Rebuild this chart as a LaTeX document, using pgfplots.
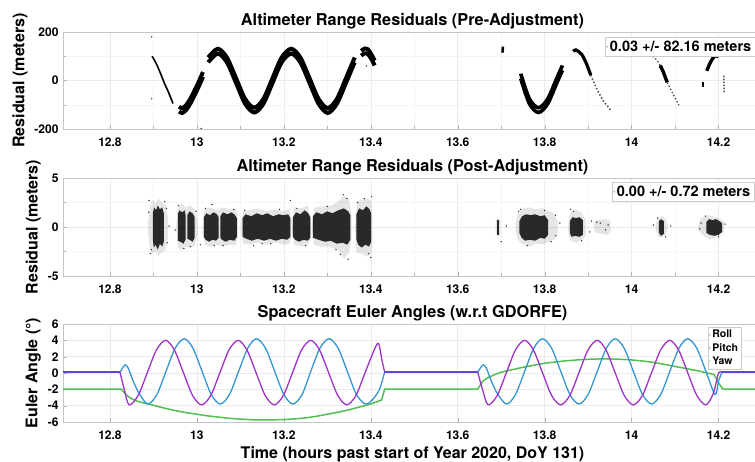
\documentclass[border=0pt]{standalone}
\usepackage{pgfplots}
\pgfplotsset{compat=1.18}
\usepackage{pgfplotstable}
\usepackage{fontspec}
\setmainfont{TeX Gyre Heros}
\definecolor{rollc}{RGB}{50,150,210}
\definecolor{pitchc}{RGB}{160,50,200}
\definecolor{yawc}{RGB}{80,190,80}
\definecolor{flatc}{RGB}{95,70,215}

% ---------- panel 1 data (pre-adjustment residuals, m) ----------
\pgfplotstableread{
x y
12.959 -118
12.966 -124
12.975 -112
12.985 -85
12.995 -50
13.005 -12
13.014 25
}\preA
\pgfplotstableread{
x y
13.026 85
13.048 121
13.069 85
13.090 0
13.111 -86
13.132 -122
13.153 -86
13.174 0
13.195 85
13.217 121
13.238 85
13.259 0
13.280 -86
13.301 -124
13.322 -86
13.343 0
13.363 85
}\preB
\pgfplotstableread{
x y
13.378 112
13.386 122
13.394 118
13.402 96
13.409 72
}\preC
\pgfplotstableread{
x y
13.745 18
13.765 -86
13.786 -122
13.807 -86
13.828 0
13.841 52
}\preD

% ---------- panel 3 data (Euler angles, deg) ----------
\pgfplotstableread{
x y
12.823 0.1
12.833 -2.0
12.844 -3.90
12.865 -2.74
12.886 0.05
12.907 2.84
12.928 4.00
12.948 2.84
12.969 0.05
12.990 -2.74
13.011 -3.90
13.032 -2.74
13.053 0.05
13.074 2.84
13.095 4.00
13.115 2.84
13.136 0.05
13.157 -2.74
13.178 -3.90
13.199 -2.74
13.220 0.05
13.241 2.84
13.262 4.00
13.282 2.84
13.303 0.05
13.324 -2.74
13.345 -3.90
13.366 -2.74
13.387 0.05
13.408 2.84
13.418 3.6
13.426 1.5
13.432 0.1
}\pitchA
\pgfplotstableread{
x y
13.646 0.1
13.657 -2.0
13.670 -3.90
13.691 -2.74
13.712 0.05
13.733 2.84
13.754 4.00
13.774 2.84
13.795 0.05
13.816 -2.74
13.837 -3.90
13.858 -2.74
13.879 0.05
13.900 2.84
13.921 4.00
13.941 2.84
13.962 0.05
13.983 -2.74
14.004 -3.90
14.025 -2.74
14.046 0.05
14.067 2.84
14.088 4.00
14.108 2.84
14.129 0.05
14.150 -2.74
14.171 -3.90
14.188 -2.5
14.200 0.0
14.208 0.1
}\pitchB
\pgfplotstableread{
x y
12.823 0.1
12.829 0.6
12.835 1.0
12.842 0.6
12.852 -0.8
12.866 -2.4
12.887 -3.80
12.908 -2.63
12.929 0.20
12.950 3.03
12.971 4.20
12.991 3.03
13.012 0.20
13.033 -2.63
13.054 -3.80
13.075 -2.63
13.096 0.20
13.117 3.03
13.137 4.20
13.158 3.03
13.179 0.20
13.200 -2.63
13.221 -3.80
13.242 -2.63
13.262 0.20
13.283 3.03
13.304 4.20
13.325 3.03
13.346 0.20
13.367 -2.63
13.388 -3.80
13.405 -3.2
13.420 -2.0
13.432 0.1
}\rollA
\pgfplotstableread{
x y
13.646 0.1
13.652 0.6
13.659 1.0
13.666 0.6
13.676 -0.8
13.690 -2.4
13.712 -3.80
13.733 -2.63
13.754 0.20
13.775 3.03
13.795 4.20
13.816 3.03
13.837 0.20
13.858 -2.63
13.879 -3.80
13.900 -2.63
13.921 0.20
13.942 3.03
13.962 4.20
13.983 3.03
14.004 0.20
14.025 -2.63
14.046 -3.80
14.067 -2.63
14.088 0.20
14.109 3.03
14.129 4.20
14.150 3.03
14.171 0.20
14.192 -2.63
14.200 -1.0
14.208 0.1
}\rollB
\pgfplotstableread{
x y
12.692 -1.97
12.826 -1.97
12.833 -2.4
12.840 -2.8
12.850 -3.15
12.860 -3.4
12.880 -3.7
12.900 -3.95
12.925 -4.3
12.950 -4.6
12.975 -4.85
13.000 -5.05
13.025 -5.25
13.050 -5.4
13.075 -5.55
13.100 -5.65
13.125 -5.72
13.150 -5.75
13.175 -5.74
13.200 -5.7
13.225 -5.62
13.250 -5.5
13.275 -5.3
13.300 -5.05
13.325 -4.8
13.350 -4.5
13.375 -4.15
13.400 -3.8
13.415 -3.5
13.425 -3.3
13.432 -1.97
13.646 -1.97
13.653 -1.4
13.658 -1.0
13.668 -0.6
13.685 -0.2
13.700 0.1
13.725 0.4
13.750 0.7
13.775 0.95
13.800 1.2
13.825 1.35
13.850 1.5
13.875 1.6
13.900 1.68
13.925 1.72
13.950 1.72
13.975 1.68
14.000 1.6
14.025 1.47
14.050 1.3
14.075 1.07
14.100 0.8
14.125 0.55
14.150 0.3
14.170 0.05
14.190 -0.2
14.200 -1.2
14.210 -1.97
14.300 -1.97
}\yaw

\pgfplotsset{
  base/.style={
    scale only axis, width=699pt, anchor=south west,
    xmin=12.692, xmax=14.30,
    xtick={12.8,13,13.2,13.4,13.6,13.8,14,14.2},
    tick pos=left, tick align=inside, major tick length=4pt,
    axis line style={gray!45}, tick style={gray!60},
    major grid style={gray!16, line width=0.5pt},
    minor grid style={gray!8, line width=0.4pt},
    /pgf/number format/assume math mode=true,
    tick label style={font=\bfseries\fontsize{12}{12}\selectfont},
    xticklabel style={yshift=-5pt},
    yticklabel style={xshift=-1pt},
    label style={font=\bfseries\fontsize{16}{16}\selectfont},
    title style={font=\bfseries\fontsize{16.3}{16}\selectfont, yshift=-7pt},
    legend cell align=left,
    legend style={draw=gray!40, fill=white, inner sep=1.5pt,
      font=\bfseries\fontsize{14.5}{15}\selectfont, anchor=north west},
  },
  core/.style={fill=black, draw=none, fill opacity=0.82, forget plot},
  halo/.style={fill=black, draw=none, fill opacity=0.10, forget plot},
  band/.style={black, line width=4pt, smooth, forget plot},
}

\begin{document}
\begin{tikzpicture}[x=1pt,y=1pt]
%================ PANEL 1 ================
\begin{axis}[base, at={(63pt,332pt)}, height=97pt,
  ymin=-200, ymax=200, ytick={-200,0,200}, minor x tick num=1, minor y tick num=1,
  grid=both,
  ylabel={Residual (meters)},
  title={Altimeter Range Residuals (Pre-Adjustment)},
  legend style={at={(rel axis cs:0.7754,0.948)}}]
\addlegendimage{only marks, mark=*, mark size=0.6pt, gray!60}
\addlegendentry{0.03 +/- 82.16 meters}
\addplot[black, line width=1.6pt, smooth, forget plot] coordinates {(12.897,100)(12.905,75)(12.915,35)(12.925,-10)(12.935,-50)(12.945,-95)};
\addplot[band, yshift=2.4pt] table {\preA};
\addplot[band, yshift=-2.4pt] table {\preA};
\addplot[band, yshift=2.4pt] table {\preB};
\addplot[band, yshift=-2.4pt] table {\preB};
\addplot[band, yshift=2.4pt] table {\preC};
\addplot[band, yshift=-2.4pt] table {\preC};
\addplot[band, line width=3.6pt, yshift=2.4pt] table {\preD};
\addplot[band, line width=3.6pt, yshift=-2.4pt] table {\preD};
\addplot[black, line width=3.2pt, smooth, forget plot] coordinates {(13.866,120)(13.872,126)(13.885,108)(13.896,70)(13.906,22)};
\addplot[black!70, line width=1.5pt, dash pattern=on 1.5pt off 2pt, forget plot] coordinates {(13.906,22)(13.920,-35)(13.935,-85)(13.952,-122)};
\addplot[black, line width=2.5pt, forget plot] coordinates {(13.703,115)(13.704,140)};
\addplot[black!70, line width=1.3pt, dash pattern=on 1.5pt off 2pt, forget plot] coordinates {(14.048,100)(14.058,85)(14.066,62)};
\addplot[black, line width=3.4pt, forget plot] coordinates {(14.066,62)(14.073,35)(14.082,-8)};
\addplot[black!70, line width=1.3pt, dash pattern=on 1.5pt off 2pt, forget plot] coordinates {(14.082,-8)(14.095,-55)(14.109,-102)};
\addplot[black, line width=2pt, forget plot] coordinates {(14.164,-5)(14.164,-28)};
\addplot[black, line width=3.4pt, smooth, forget plot] coordinates {(14.173,40)(14.180,70)(14.187,92)(14.194,104)(14.200,96)};
\addplot[black!70, line width=1.5pt, dash pattern=on 1.5pt off 1.5pt, forget plot] coordinates {(14.212,20)(14.213,-49)};
\addplot[only marks, mark=*, mark size=0.5pt, black!70, forget plot] coordinates {(12.896,180)(12.896,-75)(13.01,-198)(13.39,60)};
\end{axis}

%================ PANEL 2 ================
\begin{axis}[base, at={(63pt,185pt)}, height=98pt,
  ymin=-5, ymax=5, ytick={-5,0,5}, minor x tick num=1, minor y tick num=1,
  grid=both,
  ylabel={Residual (meters)},
  title={Altimeter Range Residuals (Post-Adjustment)},
  legend style={at={(rel axis cs:0.7854,0.959)}}]
\addlegendimage{only marks, mark=*, mark size=0.6pt, gray!60}
\addlegendentry{0.00 +/- 0.72 meters}
% halos
\addplot[halo] coordinates {(12.888,0.5)(12.892,2.0)(12.898,2.8)(12.905,2.4)(12.912,2.9)(12.920,2.5)(12.928,2.2)(12.934,0.8)(12.934,-0.9)(12.928,-2.3)(12.920,-2.6)(12.912,-2.9)(12.904,-2.5)(12.896,-2.8)(12.891,-1.9)(12.888,-0.6)} -- cycle;
\addplot[halo] coordinates {(12.953,0.5)(12.957,2.0)(12.965,2.4)(12.975,2.0)(12.985,2.2)(12.995,1.8)(13.001,0.7)(13.001,-0.8)(12.995,-1.9)(12.985,-2.1)(12.975,-2.0)(12.963,-2.4)(12.956,-2.0)(12.953,-0.5)} -- cycle;
\addplot[halo] coordinates {(13.013,0.4)(13.018,1.8)(13.030,2.0)(13.045,1.7)(13.060,2.0)(13.075,1.8)(13.090,1.9)(13.095,0.6)(13.095,-0.7)(13.090,-1.9)(13.075,-1.8)(13.060,-2.0)(13.045,-1.8)(13.030,-2.0)(13.018,-1.8)(13.013,-0.5)} -- cycle;
\addplot[halo] coordinates {(13.101,0.4)(13.106,1.6)(13.120,1.7)(13.140,1.9)(13.160,1.6)(13.180,1.8)(13.200,1.6)(13.214,1.9)(13.218,0.5)(13.218,-0.6)(13.214,-1.7)(13.200,-1.8)(13.180,-1.6)(13.160,-1.8)(13.140,-1.6)(13.120,-1.8)(13.106,-1.7)(13.101,-0.5)} -- cycle;
\addplot[halo] coordinates {(13.219,0.3)(13.223,2.0)(13.240,1.9)(13.255,2.2)(13.263,0.5)(13.263,-0.6)(13.255,-1.9)(13.240,-2.0)(13.223,-1.8)(13.219,-0.4)} -- cycle;
\addplot[halo] coordinates {(13.265,0.4)(13.270,2.0)(13.290,2.1)(13.310,2.2)(13.325,2.6)(13.338,3.2)(13.350,2.8)(13.356,1.0)(13.356,-1.2)(13.350,-2.6)(13.338,-3.2)(13.325,-2.4)(13.305,-2.0)(13.285,-2.0)(13.270,-1.8)(13.265,-0.4)} -- cycle;
\addplot[halo] coordinates {(13.364,0.5)(13.368,2.6)(13.380,2.8)(13.392,3.0)(13.401,2.6)(13.404,0.8)(13.404,-0.9)(13.401,-2.8)(13.390,-3.0)(13.378,-2.7)(13.367,-2.6)(13.364,-0.6)} -- cycle;
\addplot[halo] coordinates {(13.687,0.6)(13.693,1.0)(13.699,0.6)(13.699,-0.7)(13.693,-1.0)(13.687,-0.6)} -- cycle;
\addplot[halo] coordinates {(13.733,0.3)(13.738,1.4)(13.750,1.9)(13.765,2.0)(13.780,1.8)(13.795,1.9)(13.810,1.6)(13.822,1.4)(13.830,0.6)(13.830,-0.6)(13.822,-1.3)(13.810,-1.5)(13.795,-1.8)(13.780,-1.7)(13.765,-2.0)(13.750,-1.8)(13.738,-1.3)(13.733,-0.4)} -- cycle;
\addplot[halo] coordinates {(13.854,0.3)(13.858,1.4)(13.870,1.8)(13.884,1.5)(13.894,0.8)(13.894,-0.9)(13.884,-1.4)(13.870,-1.6)(13.858,-1.3)(13.854,-0.3)} -- cycle;
\addplot[halo] coordinates {(13.913,0.3)(13.920,0.7)(13.935,0.8)(13.950,0.7)(13.952,0.2)(13.952,-0.4)(13.945,-0.8)(13.930,-0.7)(13.918,-0.6)(13.913,-0.2)} -- cycle;
\addplot[halo] coordinates {(14.056,0.3)(14.062,1.0)(14.072,1.1)(14.080,0.7)(14.083,0.2)(14.083,-0.3)(14.078,-0.8)(14.068,-1.1)(14.060,-0.9)(14.056,-0.3)} -- cycle;
\addplot[halo] coordinates {(14.153,0.3)(14.160,0.9)(14.175,1.2)(14.195,1.0)(14.212,0.6)(14.212,-0.6)(14.195,-1.0)(14.180,-1.3)(14.165,-0.9)(14.153,-0.3)} -- cycle;
% cores
\addplot[core] coordinates {(12.899,1.5)(12.902,2.0)(12.906,1.7)(12.910,2.2)(12.915,1.8)(12.920,2.0)(12.924,1.4)(12.924,-1.5)(12.920,-2.0)(12.915,-1.7)(12.910,-2.3)(12.905,-1.8)(12.901,-2.1)(12.899,-1.4)} -- cycle;
\addplot[core] coordinates {(12.956,1.3)(12.960,1.7)(12.966,1.5)(12.972,1.7)(12.974,1.2)(12.974,-1.3)(12.969,-1.7)(12.962,-1.5)(12.956,-1.4)} -- cycle;
\addplot[core] coordinates {(12.978,1.2)(12.983,1.6)(12.990,1.4)(12.995,1.0)(12.995,-1.1)(12.990,-1.5)(12.983,-1.3)(12.978,-1.2)} -- cycle;
\addplot[core] coordinates {(13.016,1.0)(13.022,1.4)(13.030,1.2)(13.038,1.5)(13.046,1.3)(13.050,1.0)(13.050,-1.1)(13.044,-1.4)(13.036,-1.3)(13.028,-1.5)(13.020,-1.3)(13.016,-1.0)} -- cycle;
\addplot[core] coordinates {(13.054,1.1)(13.060,1.5)(13.070,1.3)(13.080,1.5)(13.088,1.2)(13.092,0.9)(13.092,-1.0)(13.086,-1.4)(13.076,-1.3)(13.066,-1.5)(13.058,-1.3)(13.054,-1.1)} -- cycle;
\addplot[core] coordinates {(13.105,0.9)(13.112,1.3)(13.125,1.1)(13.138,1.4)(13.150,1.2)(13.162,1.4)(13.175,1.1)(13.188,1.3)(13.200,1.2)(13.210,1.3)(13.215,0.9)(13.215,-1.0)(13.208,-1.3)(13.195,-1.2)(13.182,-1.4)(13.168,-1.2)(13.155,-1.4)(13.140,-1.2)(13.126,-1.4)(13.114,-1.2)(13.105,-1.0)} -- cycle;
\addplot[core] coordinates {(13.221,1.0)(13.228,1.5)(13.238,1.3)(13.248,1.7)(13.256,1.4)(13.261,1.0)(13.261,-1.1)(13.255,-1.4)(13.245,-1.3)(13.235,-1.5)(13.226,-1.3)(13.221,-1.0)} -- cycle;
\addplot[core] coordinates {(13.267,1.1)(13.275,1.5)(13.288,1.3)(13.300,1.6)(13.312,1.4)(13.325,1.7)(13.338,1.9)(13.348,1.6)(13.353,1.2)(13.353,-1.3)(13.346,-1.8)(13.335,-1.6)(13.322,-1.7)(13.308,-1.4)(13.295,-1.5)(13.280,-1.3)(13.267,-1.1)} -- cycle;
\addplot[core] coordinates {(13.367,1.3)(13.373,1.9)(13.382,1.7)(13.390,2.1)(13.397,1.8)(13.401,1.4)(13.401,-1.5)(13.396,-2.0)(13.388,-1.8)(13.379,-2.1)(13.371,-1.8)(13.367,-1.3)} -- cycle;
\addplot[core] coordinates {(13.691,0.7)(13.695,0.7)(13.695,-0.8)(13.691,-0.8)} -- cycle;
\addplot[core] coordinates {(13.742,0.6)(13.748,1.1)(13.758,1.3)(13.768,1.2)(13.778,1.3)(13.790,1.1)(13.800,1.2)(13.808,0.7)(13.808,-0.8)(13.800,-1.2)(13.790,-1.1)(13.778,-1.4)(13.766,-1.3)(13.755,-1.4)(13.747,-1.1)(13.742,-0.6)} -- cycle;
\addplot[core] coordinates {(13.858,0.6)(13.864,1.0)(13.872,0.9)(13.880,1.0)(13.888,0.7)(13.888,-0.8)(13.880,-1.0)(13.870,-0.9)(13.862,-1.0)(13.858,-0.6)} -- cycle;
\addplot[core] coordinates {(14.063,0.6)(14.068,0.8)(14.074,0.6)(14.074,-0.7)(14.068,-0.9)(14.063,-0.6)} -- cycle;
\addplot[core] coordinates {(14.172,0.5)(14.178,0.8)(14.186,0.7)(14.194,0.8)(14.202,0.6)(14.208,0.4)(14.208,-0.5)(14.200,-0.8)(14.190,-0.9)(14.180,-0.8)(14.172,-0.6)} -- cycle;
\addplot[only marks, mark=*, mark size=0.45pt, black!80, forget plot] coordinates {
(12.890,2.7)(12.893,-2.7)(12.936,0.1)(12.950,-0.3)(13.035,2.3)(13.008,-1.8)(13.215,2.7)(13.130,-1.9)
(13.337,3.3)(13.348,-3.3)(13.402,3.1)(13.400,-3.1)(13.700,-1.5)(13.745,1.8)(13.860,1.8)(13.920,0.5)
(13.940,-0.3)(13.928,0.4)(13.946,0.2)(14.050,0.2)(14.090,0.1)(14.160,0.4)(14.215,0.3)(14.157,-0.2)
(13.835,0.4)(13.826,-0.9)(13.712,0.1)(13.904,-0.5)(13.908,0.6)
(12.889,1.5)(12.895,-2.3)(12.930,1.9)(12.932,-1.6)(12.926,2.6)
(12.958,2.2)(12.970,-2.2)(12.998,1.6)(12.985,-2.0)
(13.020,1.9)(13.060,-1.9)(13.085,1.8)(13.040,-1.9)
(13.110,1.7)(13.150,-1.7)(13.190,1.8)(13.170,-1.7)
(13.230,1.9)(13.250,-1.9)
(13.300,2.1)(13.320,-2.3)(13.345,2.9)(13.330,-2.8)
(13.370,2.5)(13.395,-2.7)(13.385,2.9)
(13.740,1.6)(13.760,-1.9)(13.800,1.7)(13.815,-1.5)(13.825,1.2)
(13.866,1.6)(13.885,-1.4)
(14.060,0.9)(14.078,-1.0)
(14.170,1.1)(14.200,-1.0)};
\end{axis}

%================ PANEL 3 ================
\begin{axis}[base, at={(63pt,39pt)}, height=98pt,
  ymin=-6, ymax=6, ytick={-6,-4,-2,0,2,4,6},
  grid=major,
  ylabel={Euler Angle (°)},
  xlabel={Time (hours past start of Year 2020, DoY 131)},
  title={Spacecraft Euler Angles (w.r.t GDORFE)},
  legend style={at={(rel axis cs:0.9227,0.969)}, font=\bfseries\fontsize{10.5}{12}\selectfont, inner sep=1pt}]
\addlegendimage{only marks, mark=*, mark size=0.6pt, rollc!50}
\addlegendentry{Roll}
\addlegendimage{only marks, mark=*, mark size=0.6pt, pitchc!50}
\addlegendentry{Pitch}
\addlegendimage{only marks, mark=*, mark size=0.6pt, yawc!50}
\addlegendentry{Yaw}
\addplot[yawc, line width=1.5pt, forget plot] table {\yaw};
\addplot[rollc, line width=1.3pt, smooth, forget plot] table {\rollA};
\addplot[rollc, line width=1.3pt, smooth, forget plot] table {\rollB};
\addplot[pitchc, line width=1.3pt, smooth, forget plot] table {\pitchA};
\addplot[pitchc, line width=1.3pt, smooth, forget plot] table {\pitchB};
\addplot[flatc, line width=2.2pt, forget plot] coordinates {(12.692,0.1)(12.824,0.1)};
\addplot[flatc, line width=2.2pt, forget plot] coordinates {(13.431,0.1)(13.647,0.1)};
\addplot[flatc, line width=2.2pt, forget plot] coordinates {(14.207,0.1)(14.30,0.1)};
\end{axis}
\pgfresetboundingbox
\useasboundingbox (0pt,0pt) rectangle (755pt,461pt);
\end{tikzpicture}
\end{document}
